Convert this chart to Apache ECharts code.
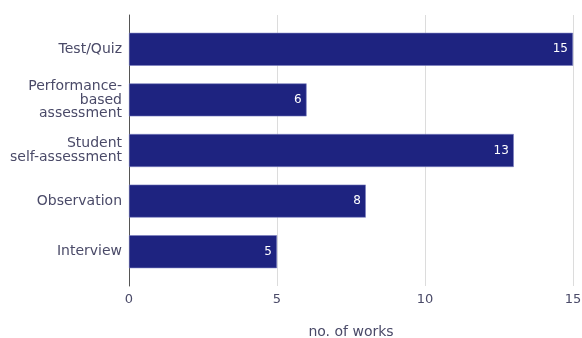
<!DOCTYPE html>
<html><head><meta charset="utf-8">
<script src="https://cdn.jsdelivr.net/npm/echarts@6/dist/echarts.min.js"></script>
<style>html,body{margin:0;padding:0;background:#fff}#c{width:582px;height:338px}</style>
</head><body><div id="c"></div>
<script>
const categories = ['Test/Quiz', 'Performance-\nbased\nassessment', 'Student\nself-assessment', 'Observation', 'Interview'];
const values = [15, 6, 13, 8, 5];
const xTicks = [0, 5, 10, 15];
const axisName = 'no. of works';

const font = 'DejaVu Sans';
const textColor = '#4a4a68';
const chart = echarts.init(document.getElementById('c'), null, {renderer: 'canvas'});
chart.setOption({
  animation: false,
  grid: [
    {left: 129, right: 9, top: 15, bottom: 52, containLabel: false, outerBoundsMode: 'none'},
    {left: 129, right: 9, top: 24, bottom: 61, containLabel: false, outerBoundsMode: 'none'}
  ],
  xAxis: [
    {gridIndex: 0, type: 'value', min: xTicks[0], max: xTicks[xTicks.length - 1], interval: 5,
     name: axisName, nameLocation: 'middle', nameGap: 39,
     nameTextStyle: {fontFamily: font, fontSize: 14, color: textColor},
     axisLine: {show: false}, axisTick: {show: false},
     axisLabel: {fontFamily: font, fontSize: 13, color: textColor, margin: 7},
     splitLine: {show: true, lineStyle: {color: '#dcdcdc', width: 1}}},
    {gridIndex: 1, type: 'value', min: xTicks[0], max: xTicks[xTicks.length - 1], interval: 5,
     show: false}
  ],
  yAxis: [
    {gridIndex: 0, type: 'category', data: categories, inverse: true,
     axisLine: {show: true, lineStyle: {color: '#555', width: 1}},
     axisTick: {show: false}, axisLabel: {show: false}, splitLine: {show: false}},
    {gridIndex: 1, type: 'category', data: categories, inverse: true,
     axisLine: {show: false}, axisTick: {show: false},
     axisLabel: {fontFamily: font, fontSize: 14, color: textColor, margin: 7, lineHeight: 13.5, align: 'right'}}
  ],
  series: [{
    type: 'bar', xAxisIndex: 1, yAxisIndex: 1, data: values, barWidth: 33,
    itemStyle: {color: '#1e2380', borderColor: '#7a7fbf', borderWidth: 0.6},
    label: {show: true, position: 'insideRight', color: '#fff', fontFamily: font, fontSize: 12, distance: 5}
  }]
});
</script></body></html>
